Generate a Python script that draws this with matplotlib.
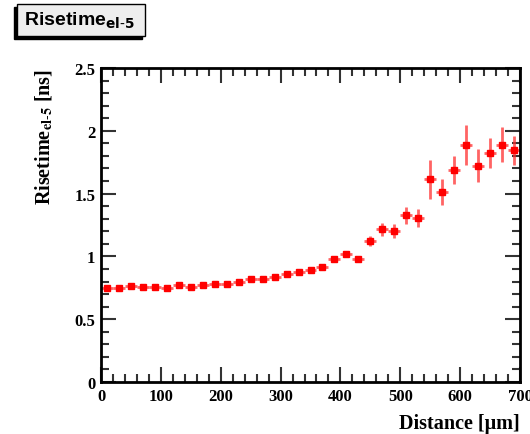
import numpy as np
import matplotlib.pyplot as plt
from matplotlib.patches import FancyBboxPatch
from matplotlib.ticker import MultipleLocator, FormatStrFormatter

# bin centres [um], rise time [ns] and its error
distance = np.arange(10, 700, 20)
risetime = [0.751, 0.750, 0.761, 0.760, 0.760, 0.750, 0.772, 0.760, 0.770, 0.783,
            0.780, 0.796, 0.817, 0.817, 0.838, 0.862, 0.873, 0.894, 0.915, 0.979,
            1.016, 0.979, 1.125, 1.215, 1.202, 1.327, 1.303, 1.613, 1.513, 1.690,
            1.889, 1.722, 1.823, 1.889, 1.844]
rt_err = [0.005, 0.005, 0.005, 0.005, 0.005, 0.005, 0.005, 0.005, 0.005, 0.005,
          0.006, 0.006, 0.007, 0.007, 0.008, 0.008, 0.009, 0.010, 0.012, 0.015,
          0.018, 0.018, 0.040, 0.053, 0.055, 0.070, 0.072, 0.153, 0.100, 0.113,
          0.158, 0.130, 0.117, 0.139, 0.117]
bin_half = 10

serif = 'Liberation Serif'

fig = plt.figure(figsize=(5.3, 4.35), dpi=100)
ax = fig.add_axes([0.1906, 0.1195, 0.7905, 0.722])

ax.errorbar(distance, risetime, yerr=rt_err, xerr=bin_half, fmt='none',
            ecolor='#ff3030', elinewidth=2, alpha=0.75, zorder=2)
ax.plot(distance, risetime, 's', color='#ff0000', markersize=5, zorder=3)

ax.set_xlim(0, 700)
ax.set_ylim(0, 2.5)
ax.xaxis.set_major_locator(MultipleLocator(100))
ax.xaxis.set_minor_locator(MultipleLocator(20))
ax.yaxis.set_major_locator(MultipleLocator(0.5))
ax.yaxis.set_minor_locator(MultipleLocator(0.1))
ax.xaxis.set_major_formatter(FormatStrFormatter('%g'))
ax.yaxis.set_major_formatter(FormatStrFormatter('%g'))
ax.tick_params(which='both', direction='in', top=True, right=True, width=1.5, color='#333333')
ax.tick_params(which='major', length=11, labelsize=12, pad=4)
ax.tick_params(which='minor', length=6)
for lab in ax.get_xticklabels() + ax.get_yticklabels():
    lab.set_fontfamily(serif)
    lab.set_fontweight('bold')
for s in ax.spines.values():
    s.set_linewidth(2)

ax.set_xlabel(u'Distance [\u03bcm]', fontfamily=serif, fontweight='bold', fontsize=14.5)
ax.xaxis.set_label_coords(1.0, -0.1)
ax.xaxis.label.set_horizontalalignment('right')
ax.set_ylabel(r'Risetime$_{\mathbf{el\text{-}5}}$ [ns]', fontfamily=serif, fontweight='bold',
              fontsize=14.5, math_fontfamily='stix')
ax.yaxis.set_label_coords(-0.11, 1.0)
ax.yaxis.label.set_horizontalalignment('right')

# title box with shadow
box_x, box_y, box_w, box_h = 17 / 530, 1 - 37 / 435, 128 / 530, 32 / 435
shadow = FancyBboxPatch((box_x - 0.006, box_y - 0.008), box_w, box_h, boxstyle='square,pad=0',
                        transform=fig.transFigure, facecolor='black', edgecolor='black')
box = FancyBboxPatch((box_x, box_y), box_w, box_h, boxstyle='square,pad=0',
                     transform=fig.transFigure, facecolor='#eeeeee', edgecolor='black', linewidth=1)
fig.patches.extend([shadow, box])
fig.text(box_x + 0.013, box_y + box_h / 2, r'Risetime$_{\mathbf{el\text{-}5}}$', fontfamily='Liberation Sans',
         fontweight='bold', fontsize=14, va='center', math_fontfamily='dejavusans')

fig.savefig('out.png', dpi=100)
